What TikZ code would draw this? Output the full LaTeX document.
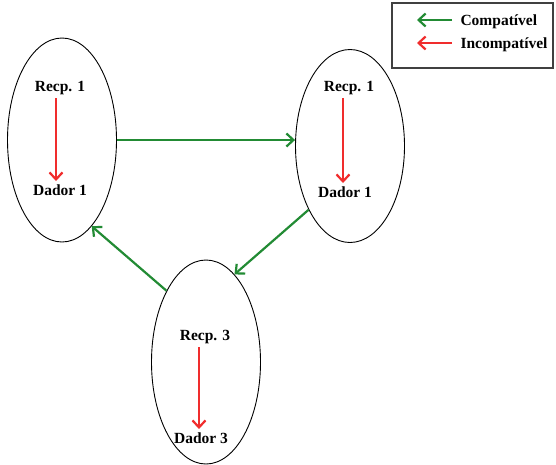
\documentclass[tikz,border=0pt]{standalone}
\usepackage{fontspec}
\setmainfont{Liberation Serif}
\usetikzlibrary{shapes.geometric,arrows.meta}
\definecolor{verde}{RGB}{34,139,52}
\definecolor{vermelho}{RGB}{240,45,45}
\begin{document}
\begin{tikzpicture}[x=1pt, y=-1pt,
    grupo/.style={draw, ellipse, line width=0.9pt, inner sep=0pt, minimum width=109pt, minimum height=#1},
    rotulo/.style={font=\fontsize{15.5}{17}\selectfont\bfseries},
    compat/.style={draw=verde, line width=2.2pt, -{Straight Barb[length=7pt,width=13pt]}},
    incompat/.style={draw=vermelho, line width=2.2pt, -{Straight Barb[length=7pt,width=13pt]}}]
    \useasboundingbox (0, 0) rectangle (556, 464);

    % pares
    \node[grupo=204pt] (grupoA) at (62, 140) {};
    \node[grupo=193pt] (grupoB) at (350, 146) {};
    \node[grupo=204pt] (grupoC) at (206, 362) {};

    \node[rotulo] (recA) at (60, 88) {Recp. 1};
    \node[rotulo] (dadA) at (60, 190) {Dador 1};
    \node[rotulo] (recB) at (349, 88) {Recp. 1};
    \node[rotulo] (dadB) at (345, 192) {Dador 1};
    \node[rotulo] (recC) at (205, 337) {Recp. 3};
    \node[rotulo] (dadC) at (201, 438) {Dador 3};

    \draw[incompat] ([xshift=-4pt]recA.south) -- ([xshift=-4pt]recA.south |- dadA.north);
    \draw[incompat] ([xshift=-6pt]recB.south) -- ([xshift=-6pt]recB.south |- dadB.north);
    \draw[incompat] ([xshift=-6pt]recC.south) -- ([xshift=-6pt]recC.south |- dadC.north);

    % compativeis
    \draw[compat] (grupoA.east) -- (grupoA.east -| grupoB.west);
    \draw[compat] (grupoB.237) -- (grupoC.72);
    \draw[compat] (grupoC.119) -- (grupoA.-71);

    % legenda
    \draw[line width=1.1pt, black!75] (392, 3) rectangle (553, 68);
    \node[rotulo, anchor=west] (compLbl) at (457, 22) {Compatível};
    \node[rotulo, anchor=west] (incLbl) at (457, 45) {Incompatível};
    \coordinate (compFim) at (417, 20);
    \coordinate (incFim) at (417, 43);
    \draw[compat] (compFim -| compLbl.west) ++(-5, 0) -- (compFim);
    \draw[incompat] (incFim -| incLbl.west) ++(-5, 0) -- (incFim);

\end{tikzpicture}
\end{document}
